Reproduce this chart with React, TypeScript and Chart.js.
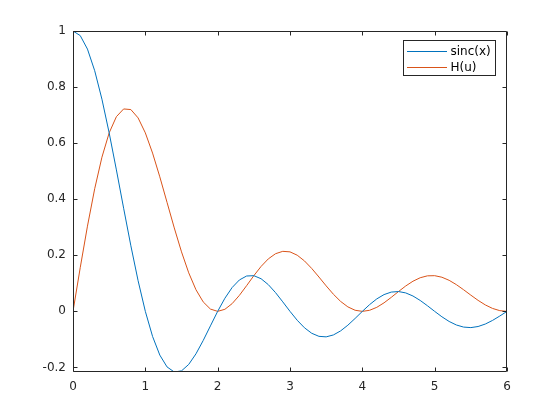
import React, { useEffect, useRef } from "react";
import { Chart, registerables } from "chart.js";

Chart.register(...registerables);

const xValues = [
  0, 0.1, 0.2, 0.3, 0.4, 0.5, 0.6, 0.7, 0.8, 0.9,
  1, 1.1, 1.2, 1.3, 1.4, 1.5, 1.6, 1.7, 1.8, 1.9,
  2, 2.1, 2.2, 2.3, 2.4, 2.5, 2.6, 2.7, 2.8, 2.9,
  3, 3.1, 3.2, 3.3, 3.4, 3.5, 3.6, 3.7, 3.8, 3.9,
  4, 4.1, 4.2, 4.3, 4.4, 4.5, 4.6, 4.7, 4.8, 4.9,
  5, 5.1, 5.2, 5.3, 5.4, 5.5, 5.6, 5.7, 5.8, 5.9, 6,
];

const sincValues = [
  1, 0.98363, 0.93549, 0.85839, 0.75683, 0.63662, 0.50455, 0.36788, 0.23387, 0.10929,
  0, -0.08942, -0.15592, -0.19809, -0.21624, -0.21221, -0.18921, -0.15148, -0.10394, -0.05177,
  0, 0.04684, 0.08504, 0.11196, 0.12614, 0.12732, 0.11643, 0.09538, 0.06682, 0.03392,
  0, -0.03173, -0.05847, -0.07804, -0.08904, -0.09095, -0.08409, -0.0696, -0.04924, -0.02522,
  0, 0.02399, 0.04455, 0.05989, 0.0688, 0.07074, 0.06581, 0.05479, 0.03898, 0.02007,
  0, -0.01929, -0.03598, -0.04859, -0.05606, -0.05787, -0.05406, -0.04518, -0.03226, -0.01667, 0,
];

const hValues = [
  0, 0.15579, 0.30396, 0.43737, 0.54987, 0.63662, 0.69445, 0.72201, 0.71978, 0.69004,
  0.63662, 0.56458, 0.47986, 0.38877, 0.29762, 0.21221, 0.13747, 0.07718, 0.03377, 0.0082,
  0, 0.00742, 0.02763, 0.05705, 0.09164, 0.12732, 0.16026, 0.18719, 0.20565, 0.21415,
  0.21221, 0.20033, 0.17995, 0.15315, 0.12255, 0.09095, 0.0611, 0.03546, 0.016, 0.00399,
  0, 0.0038, 0.01447, 0.03051, 0.04999, 0.07074, 0.09058, 0.10753, 0.11996, 0.12674,
  0.12732, 0.12177, 0.11074, 0.09536, 0.07716, 0.05787, 0.03928, 0.02302, 0.01048, 0.00264, 0,
];

const seriesLabels = ["sinc(x)", "H(u)"];
const seriesColors = ["#0072bd", "#d95319"];
const xTicks = [0, 1, 2, 3, 4, 5, 6];
const yTicks = [-0.2, 0, 0.2, 0.4, 0.6, 0.8, 1];
const xRange = [0, 6];
const yRange = [-0.21624, 1];

const AXIS_COLOR = "#262626";
const FONT = "DejaVu Sans";

const matlabFrame = {
  id: "matlabFrame",
  afterDatasetsDraw(chart: any) {
    const { ctx, chartArea, scales } = chart;
    const { left, right, top, bottom } = chartArea;
    ctx.save();
    ctx.strokeStyle = AXIS_COLOR;
    ctx.lineWidth = 1;
    const L = Math.round(left) + 0.5;
    const R = Math.round(right) - 0.5;
    const T = Math.round(top) + 0.5;
    const B = Math.round(bottom) - 0.5;
    ctx.beginPath();
    ctx.rect(L, T, R - L, B - T);
    ctx.stroke();
    const tl = 4;
    ctx.beginPath();
    for (const v of xTicks) {
      const px = Math.round(scales.x.getPixelForValue(v)) + 0.5;
      ctx.moveTo(px, B);
      ctx.lineTo(px, B - tl);
      ctx.moveTo(px, T);
      ctx.lineTo(px, T + tl);
    }
    for (const v of yTicks) {
      const py = Math.round(scales.y.getPixelForValue(v)) + 0.5;
      ctx.moveTo(L, py);
      ctx.lineTo(L + tl, py);
      ctx.moveTo(R, py);
      ctx.lineTo(R - tl, py);
    }
    ctx.stroke();

    // legend
    const bx = Math.round(right) - 103.5;
    const by = Math.round(top) + 9.5;
    const bw = 92;
    const bh = 35;
    ctx.fillStyle = "#ffffff";
    ctx.fillRect(bx, by, bw, bh);
    ctx.strokeStyle = AXIS_COLOR;
    ctx.strokeRect(bx, by, bw, bh);
    ctx.font = `12px "${FONT}"`;
    ctx.textBaseline = "middle";
    ctx.textAlign = "left";
    for (let i = 0; i < seriesLabels.length; i++) {
      const y = Math.round(by + 10.5 + i * 15.5);
      ctx.fillStyle = seriesColors[i];
      ctx.fillRect(Math.round(bx + 3.5), y, 40, 1);
      ctx.fillStyle = "#000000";
      ctx.fillText(seriesLabels[i], bx + 47, y + 0.5);
    }
    ctx.restore();
  },
};

export default function App() {
  const ref = useRef<HTMLCanvasElement | null>(null);

  useEffect(() => {
    document.body.style.margin = "0";
    const canvas = ref.current;
    if (!canvas) return;
    const chart = new Chart(canvas, {
      type: "line",
      data: {
        datasets: [
          {
            label: seriesLabels[0],
            data: xValues.map((x, i) => ({ x, y: sincValues[i] })),
            borderColor: seriesColors[0],
            borderWidth: 1,
            pointRadius: 0,
            tension: 0,
            fill: false,
          },
          {
            label: seriesLabels[1],
            data: xValues.map((x, i) => ({ x, y: hValues[i] })),
            borderColor: seriesColors[1],
            borderWidth: 1,
            pointRadius: 0,
            tension: 0,
            fill: false,
          },
        ],
      },
      options: {
        responsive: false,
        animation: false,
        devicePixelRatio: 1,
        layout: { padding: { top: 31, right: 53, left: 0, bottom: 0 } },
        plugins: {
          legend: { display: false },
          tooltip: { enabled: false },
        },
        scales: {
          x: {
            type: "linear",
            min: xRange[0],
            max: xRange[1],
            afterBuildTicks: (scale: any) => {
              scale.ticks = xTicks.map((v) => ({ value: v }));
            },
            afterFit: (scale: any) => {
              scale.height = 48;
            },
            grid: { display: false, drawTicks: false },
            border: { display: false },
            ticks: {
              color: AXIS_COLOR,
              font: { family: FONT, size: 12 },
              padding: 8,
              maxRotation: 0,
              callback: (v: any) => String(v),
            },
          },
          y: {
            type: "linear",
            min: yRange[0],
            max: yRange[1],
            afterBuildTicks: (scale: any) => {
              scale.ticks = yTicks.map((v) => ({ value: v }));
            },
            afterFit: (scale: any) => {
              scale.width = 73;
            },
            grid: { display: false, drawTicks: false },
            border: { display: false },
            ticks: {
              color: AXIS_COLOR,
              font: { family: FONT, size: 12 },
              padding: 7,
              callback: (v: any) => String(Math.round(v * 10) / 10),
            },
          },
        },
      },
      plugins: [matlabFrame],
    });
    return () => chart.destroy();
  }, []);

  return (
    <div style={{ width: 560, height: 420, background: "#fff" }}>
      <canvas ref={ref} width={560} height={420} />
    </div>
  );
}
